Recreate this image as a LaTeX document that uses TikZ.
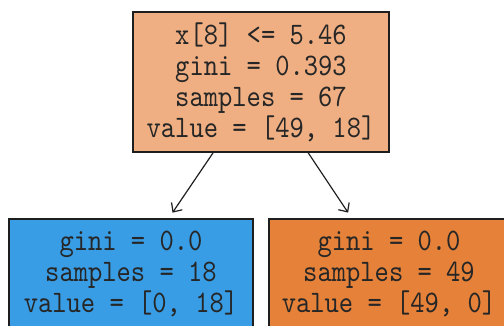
\documentclass[tikz,border=0pt]{standalone}
\usepackage{fontspec}
\usetikzlibrary{arrows.meta}
\newfontfamily\treefont[FakeStretch=0.87]{lmmono10-regular.otf}
\definecolor{rootfill}{RGB}{239,175,130}
\definecolor{leftfill}{RGB}{57,157,229}
\definecolor{rightfill}{RGB}{229,129,57}
\definecolor{edgecol}{RGB}{30,30,30}
\tikzset{
  treebox/.style={draw=edgecol, line width=1.1pt, rectangle, inner sep=0pt,
    align=center, font=\treefont\fontsize{31.3pt}{31pt}\selectfont, text=black!85},
  arr/.style={draw=edgecol, line width=1.2pt, -{Straight Barb[length=7pt,width=13pt,line width=1.2pt]}, shorten >=7pt}
}
\begin{document}
\begin{tikzpicture}[x=1pt,y=1pt]
\useasboundingbox (0,0) rectangle (504,-325);
\clip (0,0) rectangle (504,-325);
\node[treebox, fill=rootfill, minimum width=256pt, minimum height=140pt] (root) at (261,-82)
  {x[8] <= 5.46\\gini = 0.393\\samples = 67\\value = [49, 18]};
\node[treebox, fill=leftfill, minimum width=244pt, minimum height=110pt] (left) at (131,-274)
  {gini = 0.0\\samples = 18\\value = [0, 18]};
\node[treebox, fill=rightfill, minimum width=240pt, minimum height=110pt] (right) at (389,-274)
  {gini = 0.0\\samples = 49\\value = [49, 0]};
\draw[arr] (root) -- (left);
\draw[arr] (root) -- (right);
\end{tikzpicture}
\end{document}
